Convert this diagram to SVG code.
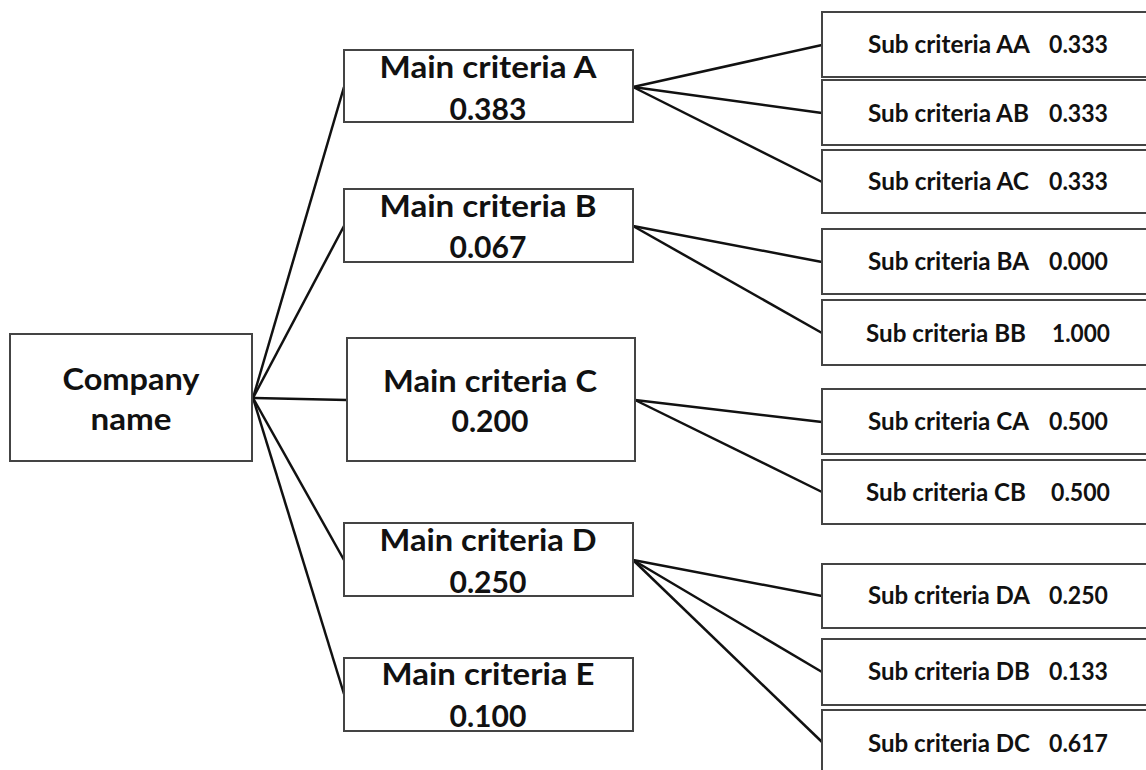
<svg xmlns="http://www.w3.org/2000/svg" width="1146" height="770" viewBox="0 0 1146 770">
<style>
.box{fill:#fff;stroke:#444;stroke-width:2}
.m{font-family:Lato,"Liberation Sans",sans-serif;font-weight:bold;font-size:31px;fill:#111;text-anchor:middle}
.s{font-family:Lato,"Liberation Sans",sans-serif;font-weight:bold;font-size:24px;fill:#111}
.c line{stroke:#111;stroke-width:2.5}
</style>
<rect width="1146" height="770" fill="#fff"/>
<g class="c" id="connectors">
<line x1="253" y1="398" x2="344" y2="87"/>
<line x1="253" y1="398" x2="344" y2="226"/>
<line x1="253" y1="398" x2="347" y2="400"/>
<line x1="253" y1="398" x2="344" y2="560"/>
<line x1="253" y1="398" x2="344" y2="694"/>
<line x1="633" y1="87" x2="822" y2="45"/>
<line x1="633" y1="87" x2="822" y2="113"/>
<line x1="633" y1="87" x2="822" y2="182"/>
<line x1="633" y1="226" x2="822" y2="262"/>
<line x1="633" y1="226" x2="822" y2="333"/>
<line x1="635" y1="400" x2="822" y2="422"/>
<line x1="635" y1="400" x2="822" y2="492"/>
<line x1="633" y1="560" x2="822" y2="596"/>
<line x1="633" y1="560" x2="822" y2="672"/>
<line x1="633" y1="560" x2="822" y2="742"/>
</g>
<g id="company"><rect class="box" x="10" y="334" width="242" height="127"/>
<text class="m" x="131" y="390" font-size="33" textLength="137" lengthAdjust="spacingAndGlyphs">Company</text><text class="m" x="131" y="430" font-size="33" textLength="81" lengthAdjust="spacingAndGlyphs">name</text></g>
<g id="mainA"><rect class="box" x="344" y="50" width="289" height="72"/>
<text class="m" x="488" y="78" textLength="217" lengthAdjust="spacingAndGlyphs">Main criteria A</text><text class="m" x="488" y="120" textLength="77" lengthAdjust="spacingAndGlyphs">0.383</text></g>
<g id="mainB"><rect class="box" x="344" y="189" width="289" height="73"/>
<text class="m" x="488" y="217" textLength="217" lengthAdjust="spacingAndGlyphs">Main criteria B</text><text class="m" x="488" y="258" textLength="77" lengthAdjust="spacingAndGlyphs">0.067</text></g>
<g id="mainC"><rect class="box" x="347" y="338" width="288" height="123"/>
<text class="m" x="490" y="392" textLength="214" lengthAdjust="spacingAndGlyphs">Main criteria C</text><text class="m" x="490" y="432" textLength="77" lengthAdjust="spacingAndGlyphs">0.200</text></g>
<g id="mainD"><rect class="box" x="344" y="523" width="289" height="73"/>
<text class="m" x="488" y="551" textLength="217" lengthAdjust="spacingAndGlyphs">Main criteria D</text><text class="m" x="488" y="593" textLength="77" lengthAdjust="spacingAndGlyphs">0.250</text></g>
<g id="mainE"><rect class="box" x="344" y="658" width="289" height="73"/>
<text class="m" x="488" y="685" textLength="213" lengthAdjust="spacingAndGlyphs">Main criteria E</text><text class="m" x="488" y="727" textLength="77" lengthAdjust="spacingAndGlyphs">0.100</text></g>
<g id="subAA"><rect class="box" x="822" y="12" width="330" height="65"/>
<text class="s" y="53"><tspan x="868" textLength="162" lengthAdjust="spacingAndGlyphs">Sub criteria AA</tspan><tspan x="1049" textLength="59" lengthAdjust="spacingAndGlyphs">0.333</tspan></text></g>
<g id="subAB"><rect class="box" x="822" y="80" width="330" height="65"/>
<text class="s" y="122"><tspan x="868" textLength="161" lengthAdjust="spacingAndGlyphs">Sub criteria AB</tspan><tspan x="1049" textLength="59" lengthAdjust="spacingAndGlyphs">0.333</tspan></text></g>
<g id="subAC"><rect class="box" x="822" y="150" width="330" height="63"/>
<text class="s" y="190"><tspan x="868" textLength="161" lengthAdjust="spacingAndGlyphs">Sub criteria AC</tspan><tspan x="1049" textLength="59" lengthAdjust="spacingAndGlyphs">0.333</tspan></text></g>
<g id="subBA"><rect class="box" x="822" y="229" width="330" height="65"/>
<text class="s" y="270"><tspan x="868" textLength="161" lengthAdjust="spacingAndGlyphs">Sub criteria BA</tspan><tspan x="1049" textLength="59" lengthAdjust="spacingAndGlyphs">0.000</tspan></text></g>
<g id="subBB"><rect class="box" x="822" y="300" width="330" height="65"/>
<text class="s" y="342"><tspan x="866" textLength="160" lengthAdjust="spacingAndGlyphs">Sub criteria BB</tspan><tspan x="1052" textLength="58" lengthAdjust="spacingAndGlyphs">1.000</tspan></text></g>
<g id="subCA"><rect class="box" x="822" y="389" width="330" height="65"/>
<text class="s" y="430"><tspan x="868" textLength="161" lengthAdjust="spacingAndGlyphs">Sub criteria CA</tspan><tspan x="1049" textLength="59" lengthAdjust="spacingAndGlyphs">0.500</tspan></text></g>
<g id="subCB"><rect class="box" x="822" y="460" width="330" height="64"/>
<text class="s" y="501"><tspan x="866" textLength="160" lengthAdjust="spacingAndGlyphs">Sub criteria CB</tspan><tspan x="1051" textLength="59" lengthAdjust="spacingAndGlyphs">0.500</tspan></text></g>
<g id="subDA"><rect class="box" x="822" y="564" width="330" height="64"/>
<text class="s" y="604"><tspan x="868" textLength="162" lengthAdjust="spacingAndGlyphs">Sub criteria DA</tspan><tspan x="1049" textLength="59" lengthAdjust="spacingAndGlyphs">0.250</tspan></text></g>
<g id="subDB"><rect class="box" x="822" y="639" width="330" height="66"/>
<text class="s" y="680"><tspan x="868" textLength="162" lengthAdjust="spacingAndGlyphs">Sub criteria DB</tspan><tspan x="1049" textLength="59" lengthAdjust="spacingAndGlyphs">0.133</tspan></text></g>
<g id="subDC"><rect class="box" x="822" y="710" width="330" height="70"/>
<text class="s" y="752"><tspan x="868" textLength="162" lengthAdjust="spacingAndGlyphs">Sub criteria DC</tspan><tspan x="1049" textLength="59" lengthAdjust="spacingAndGlyphs">0.617</tspan></text></g>
</svg>
